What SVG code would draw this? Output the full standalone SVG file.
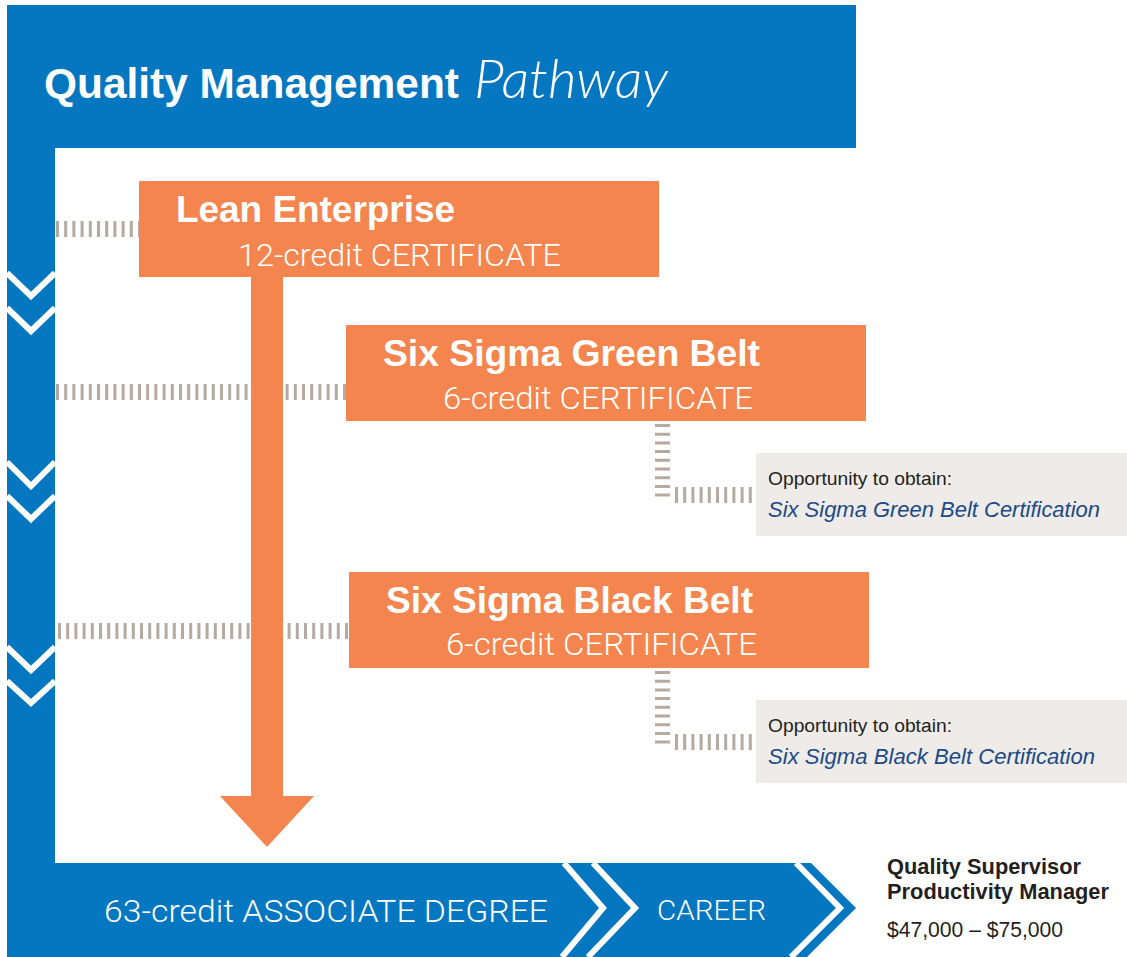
<svg xmlns="http://www.w3.org/2000/svg" width="1127" height="957" viewBox="0 0 1127 957">
<style>
.blue{fill:#0477c0}
.orange{fill:#f4854e}
.gray{fill:#eeebe8}
.wline{fill:none;stroke:#fff;stroke-width:6}
.dh{stroke:#b5a9a0;stroke-width:16;stroke-dasharray:3 5.2;fill:none}
.dv{stroke:#b5a9a0;stroke-width:15;stroke-dasharray:3 5.7;fill:none}
.bold{font-family:"Liberation Sans",Arial,sans-serif;font-weight:bold;fill:#fff}
.light{font-family:Roboto,"Liberation Sans",sans-serif;font-weight:300;fill:#fff}
.opp{font-family:"Liberation Sans",Arial,sans-serif;font-size:18.5px;fill:#231f20}
.cert{font-family:"Liberation Sans",Arial,sans-serif;font-style:italic;font-size:21.5px;fill:#1c4a87}
.career{font-family:"Liberation Sans",Arial,sans-serif;font-size:21.5px;fill:#231f20}
</style>
<rect width="1127" height="957" fill="#fff"/>
<g id="banner">
<rect class="blue" x="7" y="5" width="849" height="143"/>
<rect class="blue" x="7" y="147" width="48" height="720"/>
<text x="44" y="98" class="bold" font-size="42.5" textLength="415" lengthAdjust="spacingAndGlyphs">Quality Management</text>
<text x="474" y="98" font-family="Lato,sans-serif" font-weight="300" font-style="italic" font-size="54" fill="#fff" textLength="194" lengthAdjust="spacingAndGlyphs">Pathway</text>
<polyline class="wline" points="7,273 31,296 55,273"/>
<polyline class="wline" points="7,308 31,331 55,308"/>
<polyline class="wline" points="7,462 31,486 55,462"/>
<polyline class="wline" points="7,496 31,519 55,496"/>
<polyline class="wline" points="7,647 31,670 55,647"/>
<polyline class="wline" points="7,681 31,703 55,681"/>
</g>
<g id="connectors">
<line class="dh" x1="56" y1="229" x2="139" y2="229"/>
<line class="dh" x1="56" y1="392" x2="346" y2="392"/>
<line class="dh" x1="58" y1="631" x2="349" y2="631"/>
<line class="dv" x1="662.5" y1="424" x2="662.5" y2="502"/>
<line class="dh" x1="675" y1="495" x2="756" y2="495"/>
<line class="dv" x1="662.5" y1="671" x2="662.5" y2="749"/>
<line class="dh" x1="675" y1="742" x2="756" y2="742"/>
<polygon class="orange" points="251,277 283,277 283,796 314,796 267,847 220,796 251,796"/>
</g>
<g id="lean">
<rect class="orange" x="139" y="181" width="520" height="96"/>
<text x="176" y="222" class="bold" font-size="37" textLength="279" lengthAdjust="spacingAndGlyphs">Lean Enterprise</text>
<text x="238" y="266" class="light" font-size="32" textLength="323" lengthAdjust="spacingAndGlyphs">12-credit CERTIFICATE</text>
</g>
<g id="green">
<rect class="orange" x="346" y="325" width="520" height="96"/>
<text x="383" y="366" class="bold" font-size="37" textLength="377" lengthAdjust="spacingAndGlyphs">Six Sigma Green Belt</text>
<text x="443" y="409" class="light" font-size="32" textLength="310" lengthAdjust="spacingAndGlyphs">6-credit CERTIFICATE</text>
</g>
<g id="black">
<rect class="orange" x="349" y="572" width="520" height="96"/>
<text x="386" y="613" class="bold" font-size="37" textLength="367" lengthAdjust="spacingAndGlyphs">Six Sigma Black Belt</text>
<text x="446" y="655" class="light" font-size="32" textLength="311" lengthAdjust="spacingAndGlyphs">6-credit CERTIFICATE</text>
</g>
<g id="green-cert">
<rect class="gray" x="756" y="453" width="371" height="83"/>
<text x="768" y="485" class="opp" textLength="184" lengthAdjust="spacingAndGlyphs">Opportunity to obtain:</text>
<text x="768" y="517" class="cert" textLength="332" lengthAdjust="spacingAndGlyphs">Six Sigma Green Belt Certification</text>
</g>
<g id="black-cert">
<rect class="gray" x="756" y="700" width="371" height="83"/>
<text x="768" y="732" class="opp" textLength="184" lengthAdjust="spacingAndGlyphs">Opportunity to obtain:</text>
<text x="768" y="764" class="cert" textLength="327" lengthAdjust="spacingAndGlyphs">Six Sigma Black Belt Certification</text>
</g>
<g id="degree">
<polygon class="blue" points="7,863 811,863 856,908 807,957 7,957"/>
<polyline class="wline" points="564,863 603,908 562,957"/>
<polyline class="wline" points="593,863 635,908 588,957"/>
<polyline class="wline" points="796,863 840,908 791,957"/>
<text x="104" y="922" class="light" font-size="31" textLength="444" lengthAdjust="spacingAndGlyphs">63-credit ASSOCIATE DEGREE</text>
<text x="657" y="920" class="light" font-size="27" textLength="109" lengthAdjust="spacingAndGlyphs">CAREER</text>
</g>
<g id="career">
<text x="887" y="874" class="career" font-weight="bold" textLength="194" lengthAdjust="spacingAndGlyphs">Quality Supervisor</text>
<text x="887" y="899" class="career" font-weight="bold" textLength="222" lengthAdjust="spacingAndGlyphs">Productivity Manager</text>
<text x="887" y="937" class="career" textLength="176" lengthAdjust="spacingAndGlyphs">$47,000 – $75,000</text>
</g>
</svg>
